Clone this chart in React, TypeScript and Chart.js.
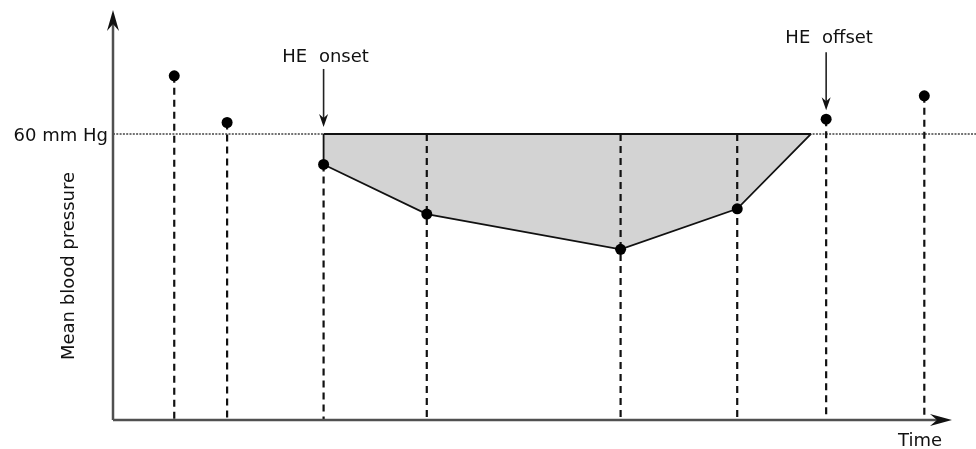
import React, { useEffect, useRef } from "react";
import { Chart, registerables } from "chart.js";

Chart.register(...registerables);

// Data (time in arbitrary units, mean blood pressure in mm Hg)
const timePoints = [7.3, 13.6, 25.1, 37.4, 60.5, 74.4, 85.0, 96.7];
const pressureValues = [72.2, 62.4, 53.6, 43.2, 35.8, 44.3, 63.1, 68.0];
const thresholdValue = 60;
const thresholdLabel = "60 mm Hg";
const onsetIndex = 2;
const offsetIndex = 6;
const recoveryTime = 83.2; // time at which pressure returns to threshold
const onsetLabel = "HE onset";
const offsetLabel = "HE offset";
const xAxisLabel = "Time";
const yAxisLabel = "Mean blood pressure";

const FONT = '18px "DejaVu Sans"';
const TEXT_COLOR = "#111";
const AXIS_COLOR = "#505050";

function arrowHead(ctx: CanvasRenderingContext2D, tipX: number, tipY: number, dirX: number, dirY: number, len: number, half: number, notch: number) {
  const px = -dirY;
  const py = dirX;
  const bx = tipX - dirX * len;
  const by = tipY - dirY * len;
  const nx = tipX - dirX * notch;
  const ny = tipY - dirY * notch;
  ctx.beginPath();
  ctx.moveTo(tipX, tipY);
  ctx.lineTo(bx + px * half, by + py * half);
  ctx.lineTo(nx, ny);
  ctx.lineTo(bx - px * half, by - py * half);
  ctx.closePath();
  ctx.fill();
}

const annotationPlugin = {
  id: "annotations",
  afterDraw(chart: any) {
    const ctx: CanvasRenderingContext2D = chart.ctx;
    const { left, right, top, bottom } = chart.chartArea;
    const xs = chart.scales.x;
    const ys = chart.scales.y;
    ctx.save();

    // Axes
    ctx.strokeStyle = AXIS_COLOR;
    ctx.fillStyle = "#111";
    ctx.lineWidth = 2.5;
    ctx.setLineDash([]);
    ctx.beginPath();
    ctx.moveTo(left, bottom);
    ctx.lineTo(left, top + 12);
    ctx.moveTo(left, bottom);
    ctx.lineTo(right - 12, bottom);
    ctx.stroke();
    arrowHead(ctx, left, top, 0, -1, 21, 6, 14);
    arrowHead(ctx, right, bottom, 1, 0, 22, 6, 15);

    // Annotation arrows
    ctx.strokeStyle = "#222";
    ctx.fillStyle = "#111";
    ctx.lineWidth = 1.6;
    const thrPx = ys.getPixelForValue(thresholdValue);

    const onX = xs.getPixelForValue(timePoints[onsetIndex]);
    const onTip = thrPx - 7;
    const onStart = onTip - 58;
    ctx.beginPath();
    ctx.moveTo(onX, onStart);
    ctx.lineTo(onX, onTip - 8);
    ctx.stroke();
    arrowHead(ctx, onX, onTip, 0, 1, 13, 4.5, 9);

    const offX = xs.getPixelForValue(timePoints[offsetIndex]);
    const offTip = ys.getPixelForValue(pressureValues[offsetIndex]) - 9;
    const offStart = offTip - 58;
    ctx.beginPath();
    ctx.moveTo(offX, offStart);
    ctx.lineTo(offX, offTip - 8);
    ctx.stroke();
    arrowHead(ctx, offX, offTip, 0, 1, 13, 4.5, 9);

    // Texts
    ctx.fillStyle = TEXT_COLOR;
    ctx.font = FONT;
    ctx.textBaseline = "middle";
    (ctx as any).wordSpacing = "6px";
    ctx.textAlign = "center";
    ctx.fillText(onsetLabel, onX + 2, onStart - 12);
    ctx.fillText(offsetLabel, offX + 3, offStart - 14);
    (ctx as any).wordSpacing = "0px";

    ctx.textAlign = "right";
    ctx.fillText(thresholdLabel, left - 5, thrPx + 2);

    ctx.textAlign = "center";
    ctx.fillText(xAxisLabel, right - 32, bottom + 21);

    ctx.translate(69, (top + bottom) / 2 + 51);
    ctx.rotate(-Math.PI / 2);
    ctx.fillText(yAxisLabel, 0, 0);

    ctx.restore();
  },
};

export default function App() {
  const canvasRef = useRef<HTMLCanvasElement | null>(null);

  useEffect(() => {
    if (!canvasRef.current) return;

    const points = timePoints.map((t, i) => ({ x: t, y: pressureValues[i] }));

    const polygon = [
      { x: timePoints[onsetIndex], y: thresholdValue },
      ...points.slice(onsetIndex, offsetIndex),
      { x: recoveryTime, y: thresholdValue },
    ];

    const dropLines = points.map((p, i) => ({
      type: "line" as const,
      data: [
        { x: p.x, y: p.y < thresholdValue && i !== onsetIndex ? thresholdValue : p.y },
        { x: p.x, y: 0 },
      ],
      borderColor: "#111",
      borderWidth: 2.2,
      borderDash: [7, 5],
      pointRadius: 0,
      fill: false,
      order: 2,
    }));

    const chart = new Chart(canvasRef.current, {
      type: "line",
      data: {
        datasets: [
          {
            data: points,
            showLine: false,
            pointRadius: 5.5,
            pointBackgroundColor: "#000",
            pointBorderColor: "#000",
            pointBorderWidth: 0,
            order: 0,
          } as any,
          {
            data: [
              { x: timePoints[onsetIndex], y: thresholdValue },
              { x: recoveryTime, y: thresholdValue },
            ],
            borderColor: "#111",
            borderWidth: 2,
            pointRadius: 0,
            fill: false,
            order: 1,
          },
          ...dropLines,
          {
            data: [
              { x: 0, y: thresholdValue },
              { x: 103, y: thresholdValue },
            ],
            borderColor: "#444",
            borderWidth: 1.4,
            borderDash: [2, 1.3],
            pointRadius: 0,
            fill: false,
            clip: false,
            order: 3,
          } as any,
          {
            data: polygon,
            borderColor: "#111",
            borderWidth: 1.8,
            backgroundColor: "#d3d3d3",
            pointRadius: 0,
            fill: { value: thresholdValue },
            order: 4,
          } as any,
        ],
      },
      options: {
        animation: false,
        responsive: true,
        maintainAspectRatio: false,
        layout: { padding: { left: 113, right: 24, top: 10, bottom: 29 } },
        scales: {
          x: { type: "linear", min: 0, max: 100, display: false },
          y: { type: "linear", min: 0, max: 86, display: false },
        },
        plugins: {
          legend: { display: false },
          tooltip: { enabled: false },
        },
        elements: { line: { tension: 0 } },
      },
      plugins: [annotationPlugin],
    });

    return () => chart.destroy();
  }, []);

  return (
    <div style={{ position: "absolute", left: 0, top: 0, width: 976, height: 449, background: "#fff" }}>
      <canvas ref={canvasRef} />
    </div>
  );
}
